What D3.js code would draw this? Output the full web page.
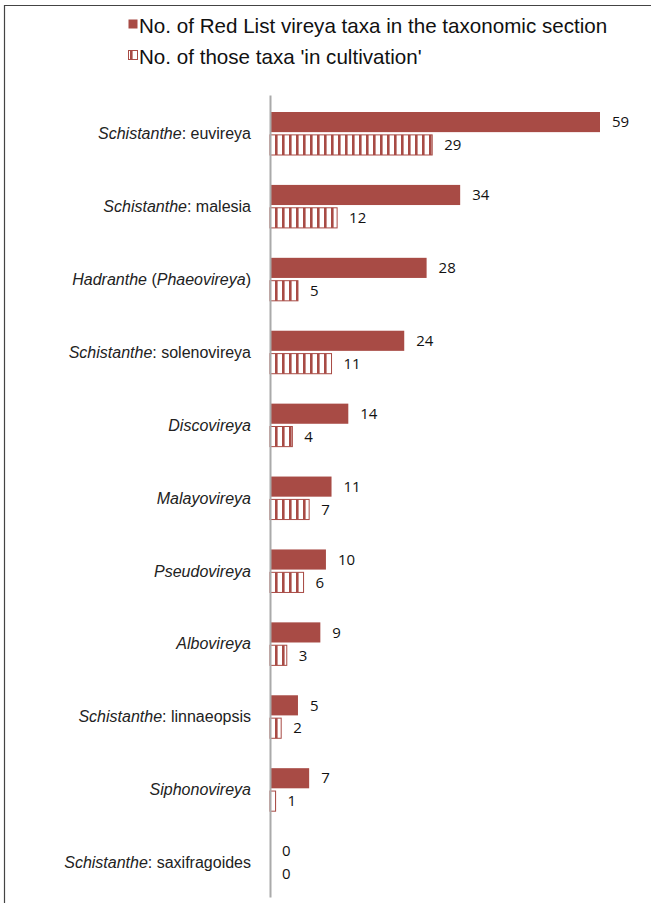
<!DOCTYPE html>
<html>
<head>
<meta charset="utf-8">
<script src="https://cdn.jsdelivr.net/npm/d3@7"></script>
<style>
  body { margin: 0; background: #fff; }
</style>
</head>
<body>
<svg width="651" height="903"></svg>
<script>
// categories: [italic part, plain part, italic part, plain part]
var categories = [
  ["Schistanthe", ": euvireya"],
  ["Schistanthe", ": malesia"],
  ["Hadranthe", " (", "Phaeovireya", ")"],
  ["Schistanthe", ": solenovireya"],
  ["Discovireya"],
  ["Malayovireya"],
  ["Pseudovireya"],
  ["Albovireya"],
  ["Schistanthe", ": linnaeopsis"],
  ["Siphonovireya"],
  ["Schistanthe", ": saxifragoides"]
];
var redList = [59, 34, 28, 24, 14, 11, 10, 9, 5, 7, 0];
var inCultivation = [29, 12, 5, 11, 4, 7, 6, 3, 2, 1, 0];
var seriesNames = ["No. of Red List vireya taxa in the taxonomic section", "No. of those taxa 'in cultivation'"];

var red = "#a84b45";
var svg = d3.select("svg");

// frame
svg.append("path")
    .attr("d", "M4.5,903 V5.5 H651")
    .attr("fill", "none")
    .attr("stroke", "#444")
    .attr("stroke-width", 1.2);

// hatch pattern for the 'in cultivation' bars
var pat = svg.append("defs").append("pattern")
    .attr("id", "hatch")
    .attr("patternUnits", "userSpaceOnUse")
    .attr("width", 7)
    .attr("height", 10);
pat.append("rect").attr("width", 7).attr("height", 10).attr("fill", "#fff");
pat.append("rect").attr("x", 2).attr("width", 2.6).attr("height", 10).attr("fill", red);

var x = d3.scaleLinear().domain([0, 59]).range([270, 600]);
var y = d3.scaleBand().domain(d3.range(categories.length)).range([95, 897]);
var keys = ["a", "b"];
var inner = d3.scaleBand().domain(keys).range([17, 60]).paddingInner(0.12);

var rows = categories.map(function(c, i) {
  return {i: i, label: c, a: redList[i], b: inCultivation[i]};
});

var g = svg.selectAll("g.row").data(rows).enter().append("g")
    .attr("class", "row")
    .attr("transform", function(d) { return "translate(0," + y(d.i) + ")"; });

g.selectAll("rect").data(function(d) {
    return keys.map(function(k) { return {key: k, value: d[k]}; });
  })
  .enter().append("rect")
    .attr("x", x(0))
    .attr("y", function(d) { return inner(d.key); })
    .attr("width", function(d) { return x(d.value) - x(0); })
    .attr("height", inner.bandwidth())
    .attr("fill", function(d) { return d.key == "a" ? red : "url(#hatch)"; })
    .attr("stroke", function(d) { return d.key == "b" && d.value > 0 ? red : "none"; })
    .attr("stroke-width", 1);

g.selectAll("text.val").data(function(d) {
    return keys.map(function(k) { return {key: k, value: d[k]}; });
  })
  .enter().append("text")
    .attr("class", "val")
    .attr("x", function(d) { return x(d.value) + 12; })
    .attr("y", function(d) { return inner(d.key) + inner.bandwidth() / 2; })
    .attr("dy", "0.35em")
    .attr("font-family", "'Open Sans', sans-serif")
    .attr("font-size", 15)
    .attr("fill", "#111")
    .text(function(d) { return d.value; });

// category labels
var lab = g.append("text")
    .attr("x", 251)
    .attr("y", y.bandwidth() / 2 + 2)
    .attr("dy", "0.35em")
    .attr("text-anchor", "end")
    .attr("font-family", "'Liberation Sans', Arial, sans-serif")
    .attr("font-size", 16)
    .attr("fill", "#222");
lab.selectAll("tspan").data(function(d) { return d.label; })
  .enter().append("tspan")
    .attr("font-style", function(d, i) { return i % 2 == 0 ? "italic" : "normal"; })
    .text(function(d) { return d; });

// axis line
svg.append("g")
    .attr("transform", "translate(" + x(0) + ",0)")
    .call(d3.axisLeft(y).tickSize(0).tickFormat(""))
    .call(function(a) { a.select(".domain").attr("stroke", "#aaa").attr("stroke-width", 2); });

// legend
var legend = svg.append("g").selectAll("g").data(seriesNames).enter().append("g")
    .attr("transform", function(d, i) { return "translate(128," + (19 + i * 31) + ")"; });
legend.append("rect")
    .attr("x", 0.5).attr("y", 0.5)
    .attr("width", 9).attr("height", 9)
    .attr("fill", function(d, i) { return i == 0 ? red : "url(#hatch)"; })
    .attr("stroke", function(d, i) { return i == 0 ? "none" : red; });
legend.append("text")
    .attr("x", 11)
    .attr("y", 7)
    .attr("dy", "0.35em")
    .attr("font-family", "'Liberation Sans', Arial, sans-serif")
    .attr("font-size", 20.6)
    .attr("fill", "#111")
    .text(function(d) { return d; });
</script>
</body>
</html>
